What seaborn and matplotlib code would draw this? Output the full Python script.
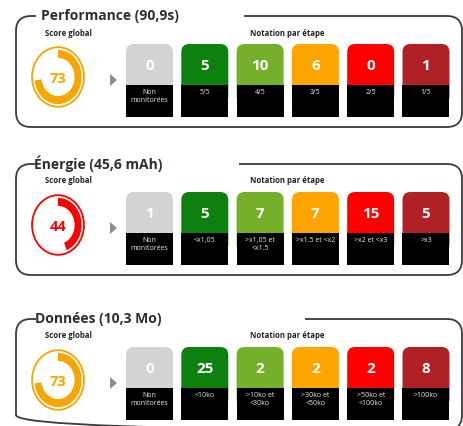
import matplotlib.pyplot as plt
from matplotlib.patches import FancyBboxPatch, Rectangle, Wedge, Circle, Polygon
import seaborn as sns

# Données du tableau de bord
titles = ["Performance (90,9s)", "Énergie (45,6 mAh)", "Données (10,3 Mo)"]
scores = [73, 44, 73]
score_colors = ["#f7a600", "#ff0000", "#f7a600"]

perf_counts = [0, 5, 10, 6, 0, 1]
energy_counts = [1, 5, 7, 7, 15, 5]
data_counts = [0, 25, 2, 2, 2, 8]

perf_labels = ["Non\nmonitorées", "5/5", "4/5", "3/5", "2/5", "1/5"]
energy_labels = ["Non\nmonitorées", "<x1,05", ">x1,05 et\n<x1.5", ">x1.5 et <x2", ">x2 et <x3", ">x3"]
data_labels = ["Non\nmonitorées", "<10ko", ">10ko et\n<30ko", ">30ko et\n<50ko", ">50ko et\n<100ko", ">100ko"]

step_colors = sns.color_palette(["#d3d3d3", "#0e800e", "#74b02a", "#ffa500", "#ff0000", "#b02126"])

counts = [perf_counts, energy_counts, data_counts]
labels = [perf_labels, energy_labels, data_labels]

# mise en page (pixels)
W, H = 464, 427
panel_tops = [17, 165, 320]
title_gap_end = [244, 239, 305]
title_x = [41, 34, 35]

sns.set_theme(style="white")
plt.rcParams["font.family"] = ["Open Sans", "DejaVu Sans"]

fig = plt.figure(figsize=(W / 100, H / 100), dpi=100)
ax = fig.add_axes([0, 0, 1, 1])
ax.set_xlim(0, W)
ax.set_ylim(H, 0)
ax.axis("off")

for p in range(3):
    top = panel_tops[p]

    # cadre arrondi
    frame = FancyBboxPatch((16, top), 446, 111, boxstyle="round,pad=0,rounding_size=15",
                           fill=False, ec="#3a3a3a", lw=1.3, zorder=1)
    ax.add_patch(frame)
    ax.add_patch(Rectangle((36, top - 4), title_gap_end[p] - 36, 8, fc="white", ec="none", zorder=2))
    ax.text(title_x[p], top - 1, titles[p], fontsize=10, fontweight="bold",
            color="#2b2f36", va="center", ha="left", zorder=3)

    ax.text(68, top + 16, "Score global", fontsize=5.6, fontweight="bold",
            color="#222222", ha="center", va="center")
    ax.text(287.5, top + 16, "Notation par étape", fontsize=5.6, fontweight="bold",
            color="#222222", ha="center", va="center")

    # anneau du score global (légèrement ovale comme l'original)
    cx, cy = 58, top + 61
    rx, ry = 26, 30
    dax = fig.add_axes([(cx - rx - 1) / W, 1 - (cy + ry + 1) / H, (2 * rx + 2) / W, (2 * ry + 2) / H])
    dax.set_xlim(-1.04, 1.04)
    dax.set_ylim(-1.04, 1.04)
    dax.axis("off")
    col = score_colors[p]
    dax.add_patch(Circle((0, 0), 1.0, fill=False, ec=col, lw=1.3))
    dax.add_patch(Wedge((0, 0), 0.91, 90 - 360 * scores[p] / 100, 90, width=0.27,
                        fc=col, ec="none"))
    dax.text(0, -0.02, str(scores[p]), fontsize=10.5, fontweight="bold", color=col,
             ha="center", va="center")

    # flèche
    ty = top + 64
    ax.add_patch(Polygon([(110, ty - 6), (110, ty + 6), (117, ty)], closed=True,
                         fc="#8c8c8c", ec="none"))

    # cases par étape
    for i in range(6):
        x0 = 126 + i * 55.3
        w = 47
        ax.add_patch(FancyBboxPatch((x0, top + 28), w, 60, boxstyle="round,pad=0,rounding_size=8",
                                    fc=step_colors[i], ec="none", zorder=3))
        ax.add_patch(Rectangle((x0, top + 69), w, 32, fc="black", ec="none", zorder=4))
        ax.text(x0 + w / 2, top + 49, str(counts[p][i]), fontsize=11, fontweight="bold",
                color="white", ha="center", va="center", zorder=5)
        ax.text(x0 + w / 2, top + 72, labels[p][i], fontsize=5, color="#e6e6e6",
                ha="center", va="top", linespacing=1.15, zorder=5)

fig.savefig("out.png", dpi=100)
